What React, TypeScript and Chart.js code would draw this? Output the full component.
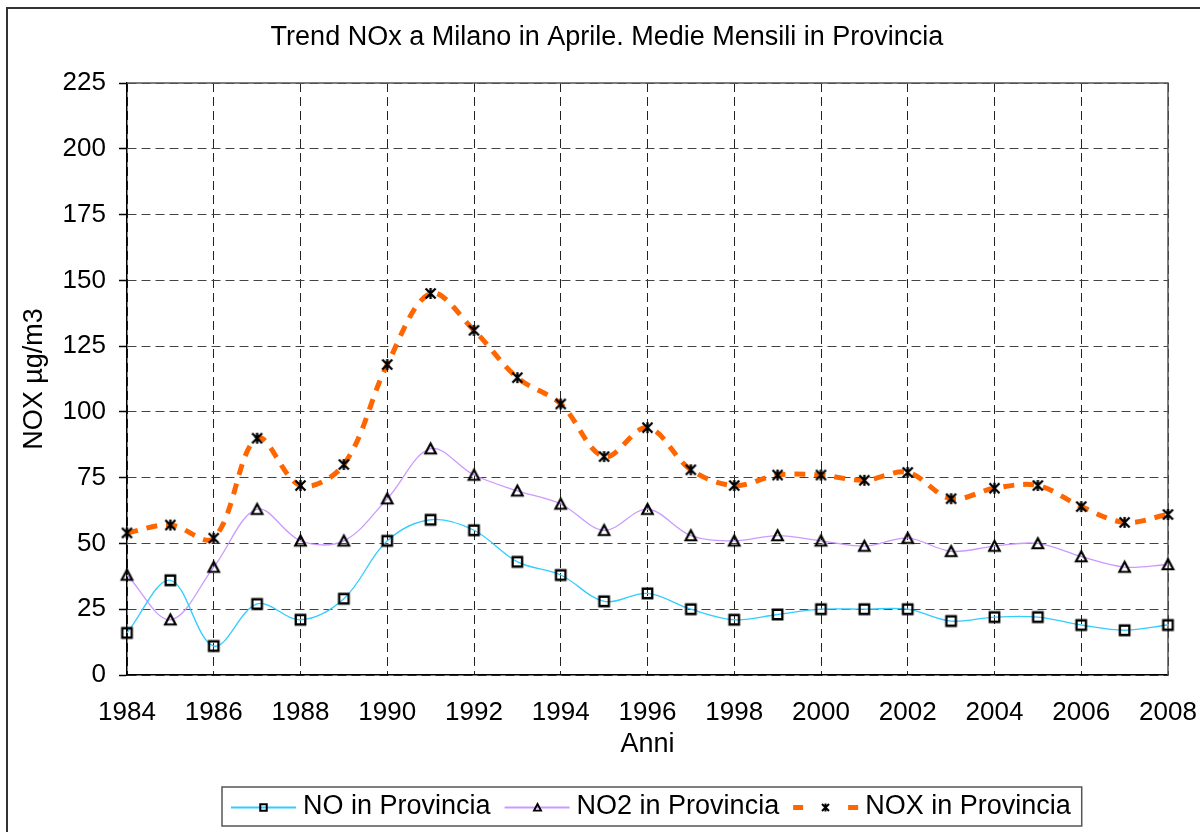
import React, { useEffect, useRef } from 'react';
import { Chart, registerables } from 'chart.js';

Chart.register(...registerables);

const years = [1984, 1985, 1986, 1987, 1988, 1989, 1990, 1991, 1992, 1993, 1994, 1995, 1996, 1997, 1998, 1999, 2000, 2001, 2002, 2003, 2004, 2005, 2006, 2007, 2008];
const xTickYears = [1984, 1986, 1988, 1990, 1992, 1994, 1996, 1998, 2000, 2002, 2004, 2006, 2008];
const yTickValues = [0, 25, 50, 75, 100, 125, 150, 175, 200, 225];

const noValues = [16, 36, 11, 27, 21, 29, 51, 59, 55, 43, 38, 28, 31, 25, 21, 23, 25, 25, 25, 20.5, 22, 22, 19, 17, 19];
const no2Values = [38, 21, 41, 63, 51, 51, 67, 86, 76, 70, 65, 55, 63, 53, 51, 53, 51, 49, 52, 47, 49, 50, 45, 41, 42];
const noxValues = [54, 57, 52, 90, 72, 80, 118, 145, 131, 113, 103, 83, 94, 78, 72, 76, 76, 74, 77, 67, 71, 72, 64, 58, 61];

const seriesLabels = ['NO in Provincia', 'NO2 in Provincia', 'NOX in Provincia'];
const titleText = 'Trend NOx a Milano in Aprile. Medie Mensili in Provincia';
const xTitle = 'Anni';
const yTitle = 'NOX µg/m3';

const FONT = '"Liberation Sans", Arial, Helvetica, sans-serif';
const NO_COLOR = '#33CCFF';
const NO2_COLOR = '#CC99FF';
const NOX_COLOR = '#FF6600';

type Kind = 'square' | 'triangle' | 'star';

function makeMarker(kind: Kind, size: number, lw: number): HTMLCanvasElement {
  const S = Math.ceil(size + lw * 2 + 4);
  const c = document.createElement('canvas');
  c.width = S;
  c.height = S;
  const g = c.getContext('2d')!;
  g.strokeStyle = '#000';
  g.lineWidth = lw;
  const m = S / 2;
  const h = size / 2;
  g.beginPath();
  if (kind === 'square') {
    g.rect(m - h, m - h, size, size);
  } else if (kind === 'triangle') {
    g.lineJoin = 'miter';
    g.moveTo(m, m - h);
    g.lineTo(m + h, m + h * 0.9);
    g.lineTo(m - h, m + h * 0.9);
    g.closePath();
  } else {
    g.moveTo(m - h, m - h);
    g.lineTo(m + h, m + h);
    g.moveTo(m + h, m - h);
    g.lineTo(m - h, m + h);
    g.moveTo(m, m - h - 0.5);
    g.lineTo(m, m + h + 0.5);
  }
  g.stroke();
  return c;
}

function toPoints(vals: number[]) {
  return years.map((y, i) => ({ x: y, y: vals[i] }));
}

export default function App() {
  const ref = useRef<HTMLCanvasElement | null>(null);

  useEffect(() => {
    if (!ref.current) return;
    const sq = makeMarker('square', 9.5, 2.3);
    const tri = makeMarker('triangle', 10.5, 2.2);
    const star = makeMarker('star', 10, 2.3);
    const sqL = makeMarker('square', 6.5, 2);
    const triL = makeMarker('triangle', 7, 1.9);
    const starL = makeMarker('star', 7, 2);

    const frame = {
      id: 'frame',
      afterDraw(chart: any) {
        const ctx = chart.ctx;
        ctx.save();
        ctx.strokeStyle = '#333';
        ctx.lineWidth = 2;
        ctx.beginPath();
        ctx.moveTo(7, 1000);
        ctx.lineTo(7, 8);
        ctx.lineTo(1400, 8);
        ctx.stroke();
        ctx.restore();
      },
    };

    const titlePlugin = {
      id: 'customTitle',
      afterDraw(chart: any) {
        const ctx = chart.ctx;
        ctx.save();
        ctx.font = '27px ' + FONT;
        ctx.fillStyle = '#000';
        ctx.textAlign = 'center';
        ctx.textBaseline = 'middle';
        ctx.fillText(titleText, chart.width / 2 + 7, 38);
        ctx.restore();
      },
    };

    const plotBorder = {
      id: 'plotBorder',
      beforeDatasetsDraw(chart: any) {
        const { ctx, chartArea } = chart;
        ctx.save();
        ctx.strokeStyle = '#555';
        ctx.lineWidth = 1.5;
        ctx.beginPath();
        ctx.moveTo(chartArea.left, chartArea.top);
        ctx.lineTo(chartArea.right, chartArea.top);
        ctx.lineTo(chartArea.right, chartArea.bottom);
        ctx.stroke();
        ctx.restore();
      },
    };

    const customLegend = {
      id: 'customLegend',
      afterDraw(chart: any) {
        const { ctx, chartArea } = chart;
        ctx.save();
        ctx.font = '27px ' + FONT;
        const symW = 65, gapST = 7, gapItem = 14, padL = 9, padR = 11;
        const widths = seriesLabels.map((t) => ctx.measureText(t).width);
        const total = padL + padR + widths.reduce((a, b) => a + b, 0) + seriesLabels.length * (symW + gapST) + (seriesLabels.length - 1) * gapItem;
        const cx = (chartArea.left + chartArea.right) / 2 + 4;
        const left = Math.round(cx - total / 2);
        const top = Math.round(chartArea.bottom + 112);
        const h = 39;
        const cy = top + 19.5;
        ctx.fillStyle = '#fff';
        ctx.fillRect(left, top, total, h);
        ctx.strokeStyle = '#555';
        ctx.lineWidth = 1.5;
        ctx.strokeRect(left, top, total, h);
        let x = left + padL;
        const markers = [sqL, triL, starL];
        seriesLabels.forEach((label, i) => {
          if (i < 2) {
            ctx.strokeStyle = i === 0 ? NO_COLOR : NO2_COLOR;
            ctx.lineWidth = 2;
            ctx.beginPath();
            ctx.moveTo(x, cy + 1);
            ctx.lineTo(x + symW, cy + 1);
            ctx.stroke();
          } else {
            ctx.fillStyle = NOX_COLOR;
            ctx.fillRect(x, cy - 1.5, 10, 5);
            ctx.fillRect(x + symW - 10, cy - 1.5, 10, 5);
          }
          const mk = markers[i];
          ctx.drawImage(mk, Math.round(x + symW / 2 - mk.width / 2), Math.round(cy + 1 - mk.height / 2));
          ctx.fillStyle = '#000';
          ctx.textBaseline = 'middle';
          ctx.textAlign = 'left';
          ctx.fillText(label, x + symW + gapST, cy);
          x += symW + gapST + widths[i] + gapItem;
        });
        ctx.restore();
      },
    };

    const chart = new Chart(ref.current, {
      type: 'line',
      data: {
        datasets: [
          {
            label: seriesLabels[0],
            data: toPoints(noValues),
            borderColor: NO_COLOR,
            borderWidth: 1.3,
            tension: 0.35,
            pointStyle: sq as any,
            pointRadius: 5,
            fill: false,
            clip: 12,
          },
          {
            label: seriesLabels[1],
            data: toPoints(no2Values),
            borderColor: NO2_COLOR,
            borderWidth: 1.3,
            tension: 0.35,
            pointStyle: tri as any,
            pointRadius: 5,
            fill: false,
            clip: 12,
          },
          {
            label: seriesLabels[2],
            data: toPoints(noxValues),
            borderColor: NOX_COLOR,
            borderWidth: 5,
            borderDash: [11, 9],
            borderCapStyle: 'butt',
            tension: 0.35,
            pointStyle: star as any,
            pointRadius: 5,
            fill: false,
            clip: 12,
          },
        ],
      },
      options: {
        animation: false,
        responsive: false,
        layout: { padding: { left: 0, right: 32, top: 83, bottom: 57 } },
        plugins: {
          legend: { display: false },
          tooltip: { enabled: false },
          title: { display: false },
        },
        scales: {
          x: {
            type: 'linear',
            min: 1984,
            max: 2008,
            afterBuildTicks: (s: any) => {
              s.ticks = xTickYears.map((v) => ({ value: v }));
            },
            afterFit: (s: any) => {
              s.height = 100;
              s.paddingLeft = 0;
              s.paddingRight = 0;
            },
            ticks: {
              callback: (v: any) => String(v),
              font: { family: FONT, size: 26 },
              color: '#000',
              padding: 22,
              maxRotation: 0,
              autoSkip: false,
            },
            grid: { color: '#222', lineWidth: 1, drawTicks: false },
            border: { display: true, color: '#000', width: 1.5, dash: [9, 5] },
            title: {
              display: true,
              text: xTitle,
              color: '#000',
              font: { family: FONT, size: 27 },
              padding: { top: 0, bottom: 14 },
            },
          },
          y: {
            type: 'linear',
            min: 0,
            max: 225,
            afterBuildTicks: (s: any) => {
              s.ticks = yTickValues.map((v) => ({ value: v }));
            },
            afterFit: (s: any) => {
              s.width = 127;
              s.paddingTop = 0;
              s.paddingBottom = 0;
            },
            ticks: {
              callback: (v: any) => String(v),
              font: { family: FONT, size: 26 },
              color: '#000',
              padding: 13,
            },
            grid: { color: '#444', lineWidth: 1, drawTicks: true, tickLength: 8, tickColor: '#000', tickWidth: 1.5 },
            border: { display: true, color: '#000', width: 1.5, dash: [9, 5] },
            title: {
              display: true,
              text: yTitle,
              color: '#000',
              font: { family: FONT, size: 27 },
              padding: { top: 18, bottom: 0 },
            },
          },
        },
      } as any,
      plugins: [frame, titlePlugin, plotBorder, customLegend],
    });

    return () => chart.destroy();
  }, []);

  return (
    <div style={{ position: 'absolute', left: 0, top: 0, width: 1200, height: 832, background: '#fff' }}>
      <canvas ref={ref} width={1200} height={832} style={{ display: 'block' }} />
    </div>
  );
}
